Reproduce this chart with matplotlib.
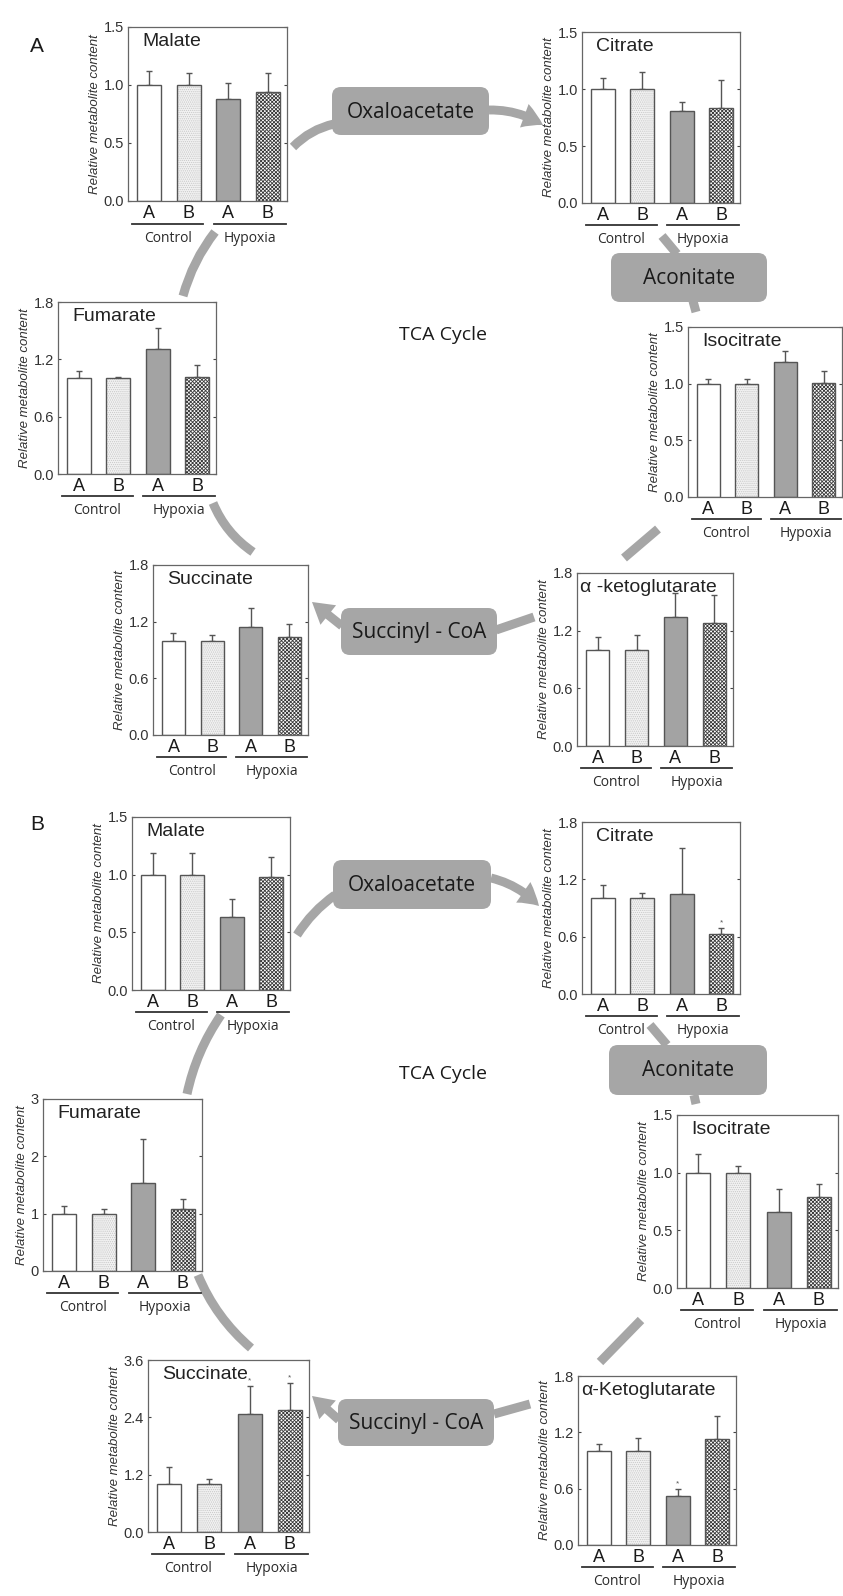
import numpy as np
import matplotlib.pyplot as plt
from matplotlib.patches import FancyArrowPatch, FancyBboxPatch
import matplotlib.transforms as mtransforms

plt.rcParams["font.family"] = ["Liberation Sans", "DejaVu Sans"]
plt.rcParams["hatch.linewidth"] = 0.6

W, H = 843, 1596

# data: relative metabolite content (bars) and upper error (SD)
bar_labels = ["A", "B", "A", "B"]
groups = ["Control", "Hypoxia"]

a_malate = [1.00, 1.00, 0.88, 0.94]
a_malate_err = [0.12, 0.10, 0.14, 0.16]
a_citrate = [1.00, 1.00, 0.81, 0.83]
a_citrate_err = [0.10, 0.15, 0.08, 0.25]
a_fumarate = [1.00, 1.00, 1.31, 1.01]
a_fumarate_err = [0.08, 0.02, 0.22, 0.13]
a_isocitrate = [1.00, 1.00, 1.19, 1.01]
a_isocitrate_err = [0.04, 0.04, 0.10, 0.10]
a_succinate = [1.00, 1.00, 1.14, 1.04]
a_succinate_err = [0.08, 0.06, 0.20, 0.14]
a_aketo = [1.00, 1.00, 1.34, 1.28]
a_aketo_err = [0.13, 0.16, 0.25, 0.29]

b_malate = [1.00, 1.00, 0.63, 0.98]
b_malate_err = [0.19, 0.19, 0.16, 0.17]
b_citrate = [1.00, 1.00, 1.05, 0.63]
b_citrate_err = [0.14, 0.06, 0.48, 0.06]
b_fumarate = [1.00, 1.00, 1.53, 1.08]
b_fumarate_err = [0.13, 0.08, 0.77, 0.17]
b_isocitrate = [1.00, 1.00, 0.66, 0.79]
b_isocitrate_err = [0.16, 0.06, 0.20, 0.11]
b_succinate = [1.00, 1.00, 2.47, 2.55]
b_succinate_err = [0.36, 0.10, 0.58, 0.57]
b_aketo = [1.00, 1.00, 0.52, 1.13]
b_aketo_err = [0.08, 0.14, 0.08, 0.24]

fig = plt.figure(figsize=(W / 100, H / 100), dpi=100)
fig.patch.set_facecolor("white")

bg = fig.add_axes([0, 0, 1, 1])
bg.set_xlim(0, W)
bg.set_ylim(H, 0)
bg.axis("off")

band = "#a6a6a6"


def link(p0, p1, rad=0.0, head=False):
    if head:
        style = "simple,tail_width=0.32,head_width=0.9,head_length=0.75"
        arr = FancyArrowPatch(p0, p1, connectionstyle=f"arc3,rad={rad}", arrowstyle=style,
                              mutation_scale=20, color=band, lw=0, shrinkA=0, shrinkB=0)
    else:
        arr = FancyArrowPatch(p0, p1, connectionstyle=f"arc3,rad={rad}", arrowstyle="-",
                              color=band, lw=6.5, shrinkA=0, shrinkB=0, capstyle="butt")
    bg.add_patch(arr)


def box(x0, y0, x1, y1, text):
    bg.add_patch(FancyBboxPatch((x0, y0), x1 - x0, y1 - y0,
                                boxstyle="round,pad=0,rounding_size=9",
                                fc=band, ec="none"))
    bg.text((x0 + x1) / 2, (y0 + y1) / 2 + 1, text, ha="center", va="center",
            fontsize=15, family="Open Sans", color="#1a1a1a")


def panel(rect, title, vals, errs, ymax, step, stars=(), fmt="{:.1f}"):
    x0, y0, x1, y1 = rect
    ax = fig.add_axes([x0 / W, 1 - y1 / H, (x1 - x0) / W, (y1 - y0) / H])
    ax.set_facecolor("none")
    x = np.arange(4)
    fills = [("white", None, "#555555"), ("#f2f2f2", "........", "#c8c8c8"),
             ("#a3a3a3", None, "#555555"), ("white", "xxxxxxxxx", "#3a3a3a")]
    for i, (fc, hatch, hc) in enumerate(fills):
        ax.bar(x[i], vals[i], width=0.6, color=fc, hatch=hatch, edgecolor=hc, lw=0, zorder=2)
    ax.bar(x, vals, width=0.6, fill=False, edgecolor="#555555", lw=1.0, zorder=3)
    ax.errorbar(x, vals, yerr=[np.zeros(4), errs], fmt="none", ecolor="#555555",
                elinewidth=1.0, capsize=2, capthick=1.0, zorder=1)
    for i in stars:
        ax.text(x[i], vals[i] + errs[i] + ymax * 0.01, "*", ha="center", va="bottom",
                fontsize=6, color="#555555")
    ax.set_xlim(-0.53, 3.48)
    ax.set_ylim(0, ymax)
    ticks = np.arange(0, ymax + step / 2, step)
    ax.set_yticks(ticks)
    ax.set_yticklabels([fmt.format(t) for t in ticks])
    ax.set_xticks(x)
    ax.set_xticklabels(bar_labels, fontsize=13, color="#1a1a1a")
    ax.tick_params(axis="x", length=0, pad=3)
    ax.tick_params(axis="y", direction="in", length=2.5, right=True, labelsize=10.5,
                   colors="#444444", labelcolor="#333333", pad=3)
    for s in ax.spines.values():
        s.set_color("#666666")
        s.set_linewidth(0.9)
    ax.set_ylabel("Relative metabolite content", fontsize=9.5, style="italic", color="#333333",
                  labelpad=2)
    ax.text(0.02 if title.startswith("α") else 0.09, 0.965, title, transform=ax.transAxes,
            ha="left", va="top", fontsize=14, color="#222222")
    tr = mtransforms.blended_transform_factory(ax.transData, ax.transAxes)
    ax.plot([-0.43, 1.37], [-0.13, -0.13], transform=tr, clip_on=False, color="#333333", lw=1.3)
    ax.plot([1.63, 3.45], [-0.13, -0.13], transform=tr, clip_on=False, color="#333333", lw=1.3)
    ax.text(0.47, -0.17, groups[0], transform=tr, ha="center", va="top", fontsize=10,
            family="Open Sans", color="#2a2a2a")
    ax.text(2.55, -0.17, groups[1], transform=tr, ha="center", va="top", fontsize=10,
            family="Open Sans", color="#2a2a2a")
    return ax


# ---- part A ----
link((293, 147), (334, 124), rad=-0.15)
link((489, 110), (543, 125), rad=-0.15, head=True)
link((662, 236), (677, 254))
link((693, 301), (696, 312))
link((658, 529), (624, 558))
link((534, 617), (496, 630))
link((342, 626), (312, 602), head=True)
link((253, 552), (213, 503), rad=-0.15)
link((183, 296), (215, 232), rad=-0.1)
box(332, 87, 489, 135, "Oxaloacetate")
box(611, 253, 767, 302, "Aconitate")
box(341, 608, 497, 655, "Succinyl - CoA")
bg.text(443, 335, "TCA Cycle", ha="center", va="center", fontsize=14, family="Open Sans", color="#1a1a1a")
bg.text(37, 47, "A", ha="center", va="center", fontsize=15, color="#1a1a1a")

panel((128, 27, 287, 201), "Malate", a_malate, a_malate_err, 1.5, 0.5)
panel((582, 32, 740, 203), "Citrate", a_citrate, a_citrate_err, 1.5, 0.5)
panel((58, 302, 216, 474), "Fumarate", a_fumarate, a_fumarate_err, 1.8, 0.6)
panel((688, 327, 842, 497), "Isocitrate", a_isocitrate, a_isocitrate_err, 1.5, 0.5)
panel((153, 565, 308, 735), "Succinate", a_succinate, a_succinate_err, 1.8, 0.6)
panel((577, 573, 733, 746), "α -ketoglutarate", a_aketo, a_aketo_err, 1.8, 0.6)

# ---- part B ----
link((297, 935), (335, 895), rad=-0.1)
link((491, 878), (539, 906), rad=-0.15, head=True)
link((650, 1025), (667, 1045))
link((694, 1095), (696, 1104))
link((641, 1320), (600, 1362))
link((530, 1404), (494, 1414))
link((339, 1420), (312, 1396), head=True)
link((251, 1348), (198, 1275), rad=-0.12)
link((187, 1094), (221, 1015), rad=-0.1)
box(333, 860, 491, 909, "Oxaloacetate")
box(609, 1045, 767, 1095, "Aconitate")
box(338, 1399, 494, 1446, "Succinyl - CoA")
bg.text(443, 1074, "TCA Cycle", ha="center", va="center", fontsize=14, family="Open Sans", color="#1a1a1a")
bg.text(37, 825, "B", ha="center", va="center", fontsize=15, color="#1a1a1a")

panel((132, 817, 290, 990), "Malate", b_malate, b_malate_err, 1.5, 0.5)
panel((582, 822, 740, 994), "Citrate", b_citrate, b_citrate_err, 1.8, 0.6, stars=[3])
panel((43, 1099, 202, 1271), "Fumarate", b_fumarate, b_fumarate_err, 3, 1, fmt="{:.0f}")
panel((677, 1115, 838, 1288), "Isocitrate", b_isocitrate, b_isocitrate_err, 1.5, 0.5)
panel((148, 1360, 309, 1532), "Succinate", b_succinate, b_succinate_err, 3.6, 1.2, stars=[2, 3])
panel((578, 1376, 736, 1545), "α-Ketoglutarate", b_aketo, b_aketo_err, 1.8, 0.6, stars=[2])

fig.savefig("out.png", dpi=100)
